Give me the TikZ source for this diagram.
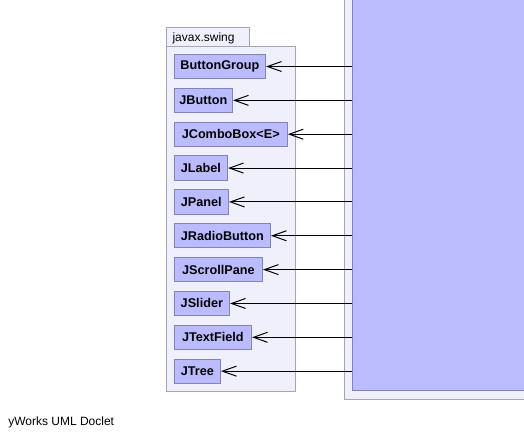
\documentclass[tikz,border=0pt]{standalone}
\usepackage{fontspec}
\setmainfont{Liberation Sans}
\usepackage{tikz}
\usepackage{xcolor}
\usetikzlibrary{arrows.meta}

\definecolor{classfill}{RGB}{187,187,255}
\definecolor{classline}{RGB}{130,130,190}
\definecolor{pkgfill}{RGB}{240,240,252}
\definecolor{pkgline}{RGB}{165,165,185}

\tikzset{
  classbox/.style={draw=classline, fill=classfill, line width=0.75pt, anchor=west,
    minimum height=18.2pt, inner sep=0pt, font=\fontsize{9.5}{11}\selectfont\bfseries},
  pkgbox/.style={draw=pkgline, fill=pkgfill, line width=0.75pt},
  uses/.style={line width=0.75pt, -{Straight Barb[length=10.5pt,width=7.5pt]}}
}

\begin{document}
\begin{tikzpicture}[x=0.75pt, y=-0.75pt]
				\clip (0,0) rectangle (524,437);
				
				% Packages
				\draw[pkgbox] (166,27.3) rectangle (249.7,46);
				\draw[pkgbox] (166,46) rectangle (295,391.3);
				\node[anchor=base west, inner sep=0pt, font=\fontsize{9}{11}\selectfont] (pkglabel) at (172.3,41.6) {javax.swing};
				\draw[pkgbox] (344.3,-10) rectangle (600,399.3);
				\node[draw=classline, fill=classfill, line width=0.75pt, anchor=south west,
				  minimum width=225pt, minimum height=375pt] (client) at (352.3,391.3) {};
				
				% Classes
				\node[classbox, minimum width=68.5pt] (buttongroup) at (173.7,66.5) {ButtonGroup};
				\node[classbox, minimum width=43.7pt] (jbutton) at (173.7,100.35) {JButton};
				\node[classbox, minimum width=84.8pt] (jcombobox) at (173.7,134.2) {JComboBox<E>};
				\node[classbox, minimum width=40pt] (jlabel) at (173.7,168.05) {JLabel};
				\node[classbox, minimum width=40.7pt] (jpanel) at (173.7,201.9) {JPanel};
				\node[classbox, minimum width=72.2pt] (jradiobutton) at (173.7,235.75) {JRadioButton};
				\node[classbox, minimum width=66.2pt] (jscrollpane) at (173.7,269.6) {JScrollPane};
				\node[classbox, minimum width=41.5pt] (jslider) at (173.7,303.45) {JSlider};
				\node[classbox, minimum width=58pt] (jtextfield) at (173.7,337.3) {JTextField};
				\node[classbox, minimum width=34.7pt] (jtree) at (173.7,371.15) {JTree};
				
				% Dependencies
				\draw[uses] (client.west |- buttongroup.east) -- (buttongroup.east);
				\draw[uses] (client.west |- jbutton.east) -- (jbutton.east);
				\draw[uses] (client.west |- jcombobox.east) -- (jcombobox.east);
				\draw[uses] (client.west |- jlabel.east) -- (jlabel.east);
				\draw[uses] (client.west |- jpanel.east) -- (jpanel.east);
				\draw[uses] (client.west |- jradiobutton.east) -- (jradiobutton.east);
				\draw[uses] (client.west |- jscrollpane.east) -- (jscrollpane.east);
				\draw[uses] (client.west |- jslider.east) -- (jslider.east);
				\draw[uses] (client.west |- jtextfield.east) -- (jtextfield.east);
				\draw[uses] (client.west |- jtree.east) -- (jtree.east);
				
				% Footer
				\node[anchor=base west, inner sep=0pt, font=\fontsize{9}{11}\selectfont] (footer) at (8,425.7) {yWorks UML Doclet};
			\end{tikzpicture}
\end{document}
